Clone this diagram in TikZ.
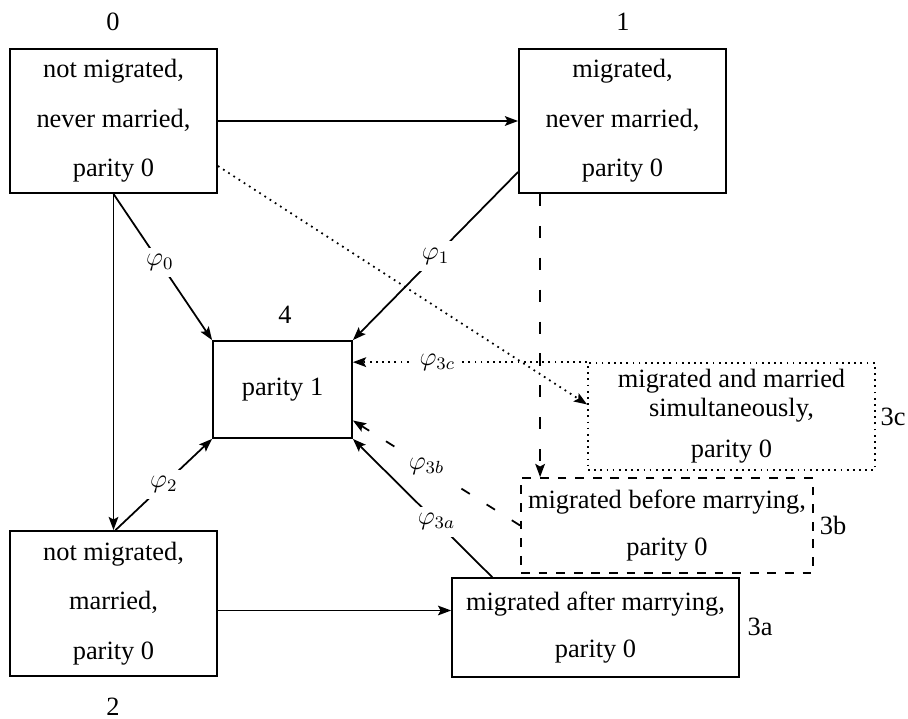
\documentclass[12pt,tikz,border=0pt]{standalone}
\usepackage{fontspec}
\setmainfont{Liberation Serif}
\usetikzlibrary{calc,arrows.meta}
\begin{document}
\begin{tikzpicture}[x=0.4545pt,y=-0.4545pt,>={Stealth[length=6pt,width=4.4pt,inset=1.2pt]},line width=0.8pt,
	box/.style={draw,rectangle,align=center,inner sep=0pt},
	lab/.style={fill=white,inner sep=3pt}]
	\useasboundingbox (0,0) rectangle (908,719);
	\node[box,minimum width=94.1pt,minimum height=65.5pt] (b0) at (113.5,121) {not migrated,\\[8pt]never married,\\[8pt]parity 0};
	\node[box,minimum width=94.1pt,minimum height=65.5pt] (b1) at (622.5,121) {migrated,\\[8pt]never married,\\[8pt]parity 0};
	\node[box,minimum width=94.1pt,minimum height=65.9pt] (b2) at (113.5,603.5) {not migrated,\\[8pt]married,\\[8pt]parity 0};
	\node[box,minimum width=63.2pt,minimum height=44.1pt] (b4) at (282.5,389.5) {parity 1};
	\node[box,dotted,minimum width=130.4pt,minimum height=48.6pt] (b3c) at (731.5,416.5) {migrated and married\\[-1.3pt]simultaneously,\\[4pt]parity 0};
	\node[box,dash pattern=on 4pt off 4pt,minimum width=132.7pt,minimum height=43.2pt] (b3b) at (667,525.5) {migrated before marrying,\\[6.5pt]parity 0};
	\node[box,minimum width=130.4pt,minimum height=45pt] (b3a) at (595.5,627.5) {migrated after marrying,\\[7pt]parity 0};
	\node (n0) at (113,22) {0};
	\node (n1) at (623,22) {1};
	\node (n2) at (113,707) {2};
	\node (n4) at (285,315) {4};
	\node (n3c) at (893,417) {3c};
	\node (n3b) at (833,525) {3b};
	\node (n3a) at (760,627) {3a};
	\draw[->] (b0.east) -- (b1.west);
	\draw[->] (b0.south) -- (b2.north);
	\draw[->] (b0.south) -- node[lab,pos=0.47] (l0) {$\varphi_0$} (b4.north west);
	\draw[->] ($(b2.north)+(2,0)$) -- node[lab,pos=0.5] (l2) {$\varphi_2$} (b4.south west);
	\draw[->] ($(b1.west)+(0,51)$) -- node[lab,pos=0.5] (l1) {$\varphi_1$} (b4.north east);
	\draw[->] ($(b3a.north west)+(41,0)$) -- node[lab,pos=0.4] (l3a) {$\varphi_{3a}$} (b4.south east);
	\draw[->,dash pattern=on 4.5pt off 9pt] (b3b.west) -- node[lab,pos=0.56] (l3b) {$\varphi_{3b}$} ($(b4.east)+(0,31)$);
	\draw[->,dotted] (b3c.north west) -- node[lab,pos=0.64] (l3c) {$\varphi_{3c}$} (b4.east |- b3c.north);
	\draw[->,dotted] ($(b0.east)+(0,45)$) -- ($(b3c.west)+(0,-12)$);
	\draw[->,dash pattern=on 5.5pt off 9pt] ($(b1.south west)+(22,0)$) coordinate (d1) -- (d1 |- b3b.north);
	\draw[->] ($(b2.east)+(0,7)$) coordinate (d2) -- (d2 -| b3a.west);
\end{tikzpicture}
\end{document}
